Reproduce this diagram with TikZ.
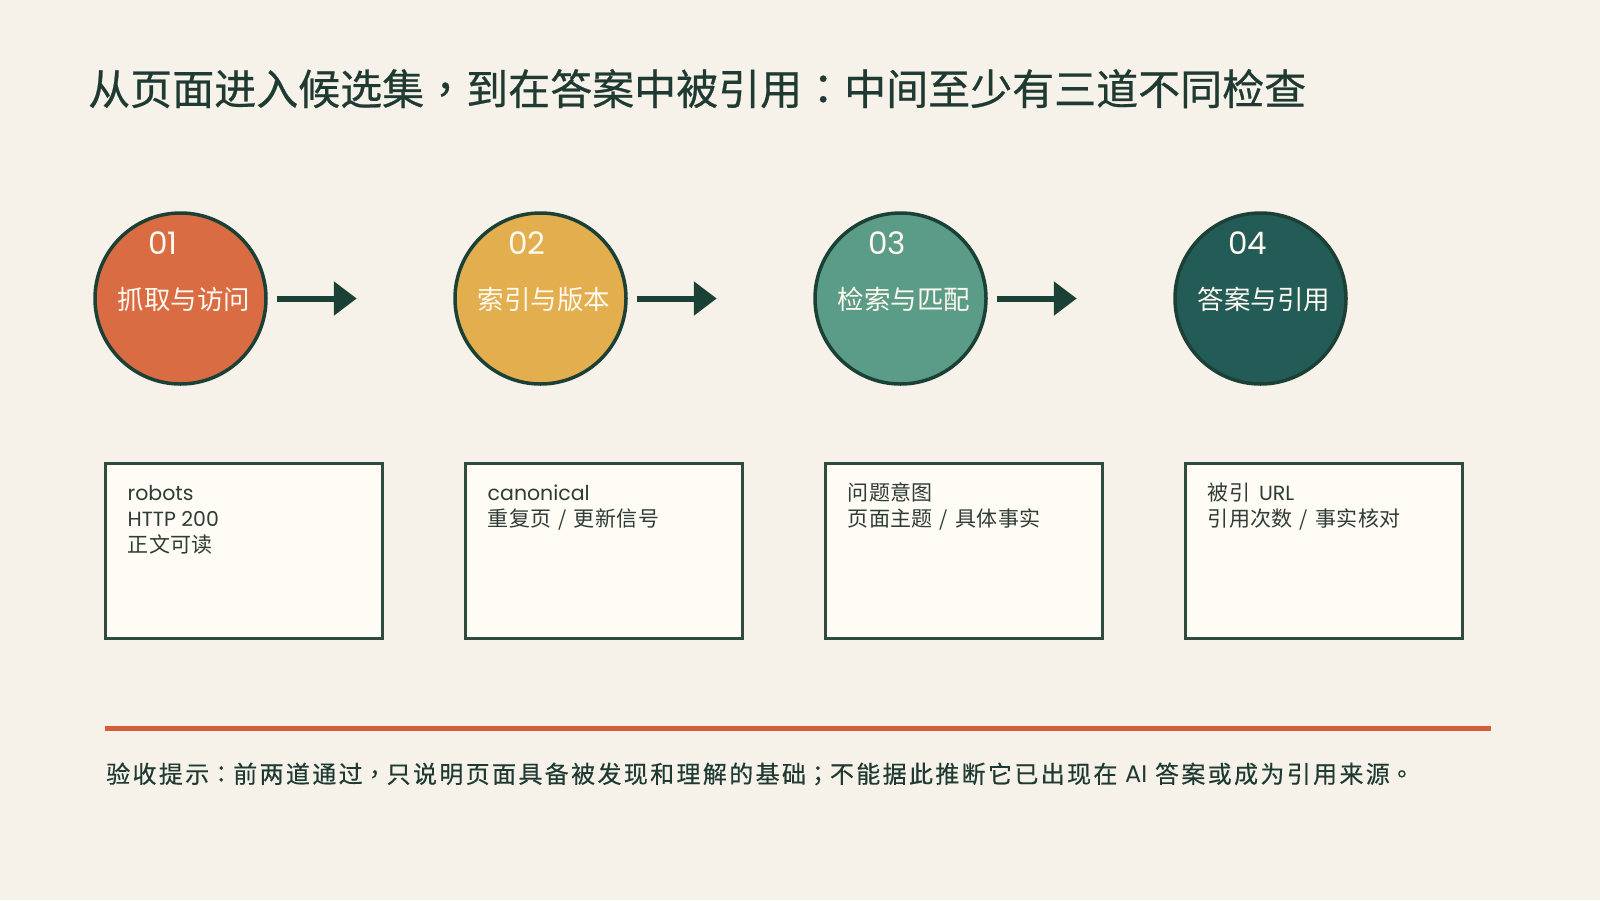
\documentclass[tikz,border=0pt]{standalone}
\usepackage{fontspec}
\usetikzlibrary{arrows.meta}
\setmainfont{Poppins}
\newfontfamily\cjk{Noto Sans CJK SC}
\newfontfamily\cjkbox[LetterSpace=2]{Noto Sans CJK SC}
\newfontfamily\cjktitle[FakeBold=0.6]{Noto Sans CJK SC}
\newfontfamily\cjktitlep[FakeBold=0.6]{Noto Sans CJK TC}
\newfontfamily\cjkfoot[LetterSpace=9.8,FakeBold=0.4]{Noto Sans CJK SC}
\newfontfamily\cjkfootp[LetterSpace=9.8,FakeBold=0.4]{Noto Sans CJK TC}
\definecolor{bg}{HTML}{F6F2E9}
\definecolor{titlec}{HTML}{1F3A32}
\definecolor{ink}{HTML}{1B4035}
\definecolor{cA}{HTML}{D96C43}
\definecolor{cB}{HTML}{E2AE4E}
\definecolor{cC}{HTML}{5A9C87}
\definecolor{cD}{HTML}{235C57}
\definecolor{cardfill}{HTML}{FFFCF5}
\definecolor{cardline}{HTML}{2F4B40}
\definecolor{cardtext}{HTML}{2E3B36}
\definecolor{rulec}{HTML}{D35F3A}
\definecolor{labc}{HTML}{FFF9F0}
\tikzset{
  stage/.style={circle, draw=ink, line width=3.5pt, minimum size=171pt, inner sep=0pt},
  num/.style={anchor=west, inner sep=0pt, text=labc, font=\fontsize{31pt}{36pt}\selectfont},
  lab/.style={inner sep=0pt, text=labc, font=\cjk\fontsize{26.5pt}{30pt}\selectfont},
  flow/.style={draw=ink, line width=6pt, -{Triangle[length=23pt,width=33pt]}, shorten <=9pt, shorten >=96.5pt},
  card/.style={rectangle, draw=cardline, fill=cardfill, line width=3pt, minimum width=277pt, minimum height=175pt, inner sep=0pt},
  cline/.style={anchor=base west, inner sep=0pt, text=cardtext, font=\fontsize{20.5pt}{26pt}\selectfont},
  rulestyle/.style={draw=rulec, line width=5pt},
}
\newcommand{\myslash}{\hspace{7pt}/\hspace{7pt}}
\newcommand{\boxcjk}{\cjkbox\fontsize{21pt}{26pt}\selectfont}
\newcommand{\tp}[1]{{\cjktitlep #1}}
\newcommand{\fp}[1]{{\cjkfootp #1}}
\begin{document}
\begin{tikzpicture}[x=1pt,y=-1pt]
\useasboundingbox (0,0) rectangle (1600,900);
\fill[bg] (0,0) rectangle (1600,900);
% title
\node[anchor=west, inner sep=0pt, text=titlec, font=\cjktitle\fontsize{42pt}{50pt}\selectfont] (title) at (88,88.7) {从页面进入候选集\tp{，}到在答案中被引用\tp{：}中间至少有三道不同检查};
% stages
\node[stage, fill=cA] (s1) at (180.5,298.5) {};
\node[stage, fill=cB] (s2) at (540.5,298.5) {};
\node[stage, fill=cC] (s3) at (900.5,298.5) {};
\node[stage, fill=cD] (s4) at (1260.5,298.5) {};
\node[num] (n1) at (148,243) {01};
\node[num] (n2) at (508,243) {02};
\node[num] (n3) at (868,243) {03};
\node[num] (n4) at (1228,243) {04};
\node[lab] (l1) at (184,299.5) {抓取与访问};
\node[lab] (l2) at (544,299.5) {索引与版本};
\node[lab] (l3) at (904,299.5) {检索与匹配};
\node[lab] (l4) at (1264,299.5) {答案与引用};
\draw[flow] (s1) -- (s2);
\draw[flow] (s2) -- (s3);
\draw[flow] (s3) -- (s4);
% cards
\node[card] (b1) at (244.3,551.2) {};
\node[card] (b2) at (604.3,551.2) {};
\node[card] (b3) at (964.3,551.2) {};
\node[card] (b4) at (1324.3,551.2) {};
\node[cline] (t1a) at (127.5,500) {robots};
\node[cline] (t1b) at (127.5,526) {HTTP 200};
\node[cline] (t1c) at (127.5,552) {\boxcjk 正文可读};
\node[cline] (t2a) at (487.5,500) {canonical};
\node[cline] (t2b) at (487.5,526) {\boxcjk 重复页\myslash 更新信号};
\node[cline] (t3a) at (847.5,500) {\boxcjk 问题意图};
\node[cline] (t3b) at (847.5,526) {\boxcjk 页面主题\myslash 具体事实};
\node[cline] (t4a) at (1207.5,500) {{\boxcjk 被引}\hspace{9pt}URL};
\node[cline] (t4b) at (1207.5,526) {\boxcjk 引用次数\myslash 事实核对};
% rule
\coordinate (r0) at (105,728.5);
\coordinate (r1) at (1491,728.5);
\draw[rulestyle] (r0) -- (r1);
% footer
\node[anchor=west, inner sep=0pt, text=titlec, font=\cjkfoot\fontsize{24pt}{28pt}\selectfont] (note) at (106,774) {验收提示\fp{：}前两道通过\fp{，}只说明页面具备被发现和理解的基础\fp{；}不能据此推断它已出现在 {\rmfamily AI} 答案或成为引用来源\fp{。}};
\end{tikzpicture}
\end{document}
